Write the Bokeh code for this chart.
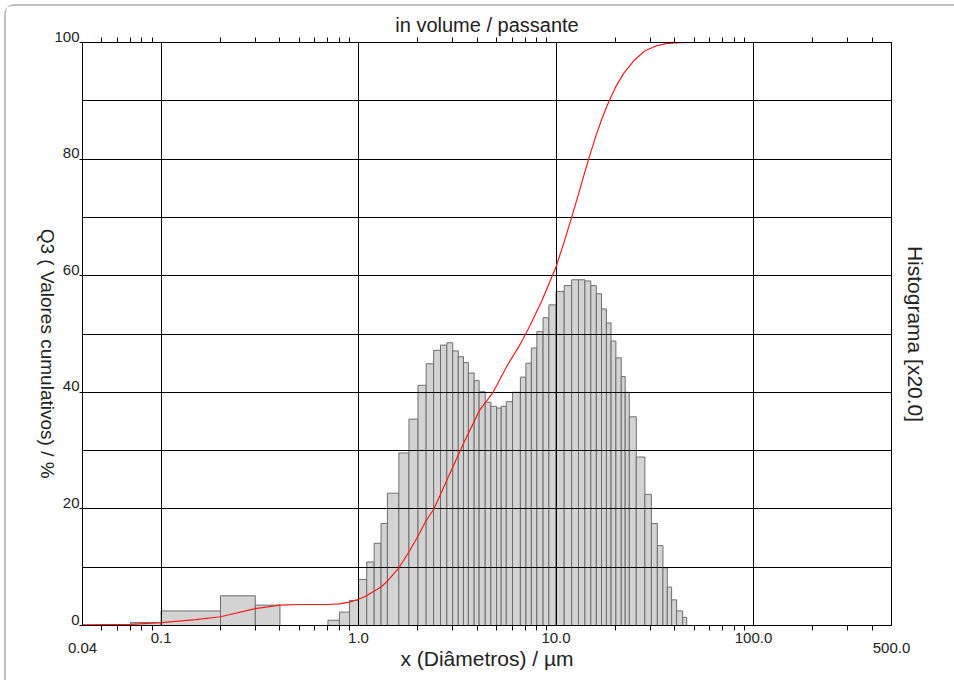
import math
from bokeh.plotting import figure
from bokeh.layouts import column
from bokeh.models import (Range1d, LogAxis, LinearAxis, FixedTicker,
                          ColumnDataSource)
from bokeh.embed import file_html
from bokeh.resources import INLINE

# ---------------- data ----------------
bin_lower = [0.07, 0.1, 0.2, 0.3,
             0.7, 0.8, 0.9, 1.0, 1.1, 1.2, 1.3, 1.4, 1.6, 1.8, 2.0, 2.2, 2.4,
             2.6, 2.8, 3.0, 3.2, 3.4, 3.6, 3.85, 4.08, 4.38, 4.68, 5.0, 5.28,
             5.6, 6.02, 6.6, 7.04, 7.5, 8.0, 8.6, 9.2, 10.0, 11.0, 12.0, 13.0,
             14.0, 15.0, 16.0, 17.0, 18.0, 19.0, 20.1, 21.4, 22.4, 23.5, 25.5,
             28.2, 30.4, 32.6, 34.8, 36.6, 38.5, 40.8, 43.8]
bin_upper = [0.1, 0.2, 0.3, 0.4,
             0.8, 0.9, 1.0, 1.1, 1.2, 1.3, 1.4, 1.6, 1.8, 2.0, 2.2, 2.4, 2.6,
             2.8, 3.0, 3.2, 3.4, 3.6, 3.85, 4.08, 4.38, 4.68, 5.0, 5.28, 5.6,
             6.02, 6.6, 7.04, 7.5, 8.0, 8.6, 9.2, 10.0, 11.0, 12.0, 13.0, 14.0,
             15.0, 16.0, 17.0, 18.0, 19.0, 20.1, 21.4, 22.4, 23.5, 25.5, 28.2,
             30.4, 32.6, 34.8, 36.6, 38.5, 40.8, 43.8, 45.9]
histogram = [0.5, 2.5, 5.1, 3.5,
             0.9, 2.3, 4.3, 7.9, 10.9, 14.1, 17.5, 22.7, 29.6, 35.4, 41.2, 44.9,
             47.2, 48.1, 48.5, 47.1, 46.1, 45.1, 43.3, 42.0, 40.1, 38.3, 37.6,
             37.3, 37.6, 38.4, 40.0, 42.6, 45.0, 47.6, 50.4, 52.8, 55.0, 57.3,
             58.3, 59.3, 59.3, 59.1, 58.3, 56.9, 54.3, 51.9, 48.8, 45.9, 42.7,
             40.0, 35.8, 28.9, 22.5, 17.5, 13.7, 9.9, 6.6, 4.4, 2.5, 1.4]

curve_x = [0.04, 0.07, 0.1, 0.15, 0.2, 0.3, 0.4, 0.5, 0.7, 0.8, 0.9, 1.0, 1.1,
           1.2, 1.3, 1.4, 1.6, 1.8, 2.0, 2.2, 2.4, 2.8, 3.4, 4.1, 4.8, 5.6,
           6.6, 7.4, 8.5, 10.0, 11.0, 12.0, 13.0, 14.0, 15.0, 16.0, 17.0,
           18.0, 19.0, 20.0, 22.0, 25.0, 28.0, 32.0, 36.0, 40.0, 46.0, 500.0]
curve_q3 = [0.1, 0.2, 0.5, 1.0, 1.5, 2.9, 3.5, 3.6, 3.6, 3.7, 4.0, 4.5, 5.1,
            5.9, 6.6, 7.6, 9.9, 12.6, 15.3, 18.0, 19.9, 24.9, 31.2, 36.9,
            40.0, 44.3, 48.3, 51.5, 55.8, 61.5, 65.8, 70.0, 74.0, 77.8, 81.2,
            84.2, 86.7, 88.9, 90.7, 92.3, 94.7, 97.0, 98.5, 99.4, 99.8, 99.95,
            100.0, 100.0]

x_major = [0.1, 1.0, 10.0, 100.0]
x_major_labels = ["0.1", "1.0", "10.0", "100.0"]
x_minor = [0.05, 0.06, 0.07, 0.08, 0.09,
           0.2, 0.3, 0.4, 0.5, 0.6, 0.7, 0.8, 0.9,
           2, 3, 4, 5, 6, 7, 8, 9,
           20, 30, 40, 50, 60, 70, 80, 90,
           200, 300, 400]
x_end_values = [0.04, 500.0]
x_end_labels = ["0.04", "500.0"]
y_ticks = [0, 20, 40, 60, 80, 100]
y_grid = [10, 20, 30, 40, 50, 60, 70, 80, 90]

x_title = "x (Diâmetros) / µm"
y_title = "Q3 ( Valores cumulativos) / %"
y_title_end = 25.2          # y value where the (top-to-bottom) title ends
y2_title = "Histograma [x20.0]"
top_title = "in volume / passante"

FONT = "Liberation Sans"
TXT = "#222222"
TICK_SIZE = "15px"

# ---------------- figure ----------------
XMIN, XMAX = 0.04, 500.0
p = figure(width=948, height=674, x_axis_type="log",
           x_range=Range1d(XMIN, XMAX), y_range=Range1d(0, 100),
           output_backend="svg", toolbar_location=None,
           min_border_left=76, min_border_right=63,
           min_border_top=36, min_border_bottom=55)
p.background_fill_color = "white"
p.border_fill_color = "white"
p.outline_line_color = "black"
p.outline_line_width = 1

# --- bottom axis: major labels
xa = p.below[0]
xa.ticker = FixedTicker(ticks=x_major, minor_ticks=x_minor)
xa.major_label_overrides = {v: s for v, s in zip(x_major, x_major_labels)}
xa.major_label_text_font = FONT
xa.major_label_text_font_size = TICK_SIZE
xa.major_label_text_color = TXT
xa.major_label_standoff = 2
xa.major_tick_out = 0
xa.major_tick_in = 0
xa.minor_tick_out = 5
xa.minor_tick_in = 0
xa.minor_tick_line_color = "black"
xa.axis_line_color = "black"

# --- second bottom axis: end labels + axis title
xb = LogAxis(ticker=FixedTicker(ticks=x_end_values, minor_ticks=[]),
             major_label_overrides={v: s for v, s in zip(x_end_values, x_end_labels)},
             major_label_text_font=FONT, major_label_text_font_size=TICK_SIZE,
             major_label_text_color=TXT, major_label_standoff=-3,
             major_tick_out=0, major_tick_in=0, axis_line_color=None,
             major_tick_line_color=None, minor_tick_line_color=None,
             axis_label=x_title, axis_label_text_font=FONT,
             axis_label_text_font_size="21px",
             axis_label_text_font_style="normal",
             axis_label_text_color=TXT, axis_label_standoff=-9)
p.add_layout(xb, "below")

# --- top axis: ticks only + title
ta = LogAxis(ticker=FixedTicker(ticks=x_major, minor_ticks=x_minor),
             major_label_text_font_size="1px", major_label_text_alpha=0,
             major_label_standoff=0,
             major_tick_out=0, major_tick_in=0, minor_tick_out=5,
             minor_tick_in=0, minor_tick_line_color="black",
             axis_line_color="black",
             axis_label=top_title, axis_label_text_font=FONT,
             axis_label_text_font_size="20px",
             axis_label_text_font_style="normal",
             axis_label_text_color=TXT, axis_label_standoff=2)
p.add_layout(ta, "above")

# --- left axis: ticks + labels sitting just above their grid lines
ya = p.left[0]
ya.ticker = FixedTicker(ticks=y_ticks, minor_ticks=[])
ya.major_label_overrides = {v: f"{v}\n" for v in y_ticks}
ya.major_label_text_font = FONT
ya.major_label_text_font_size = TICK_SIZE
ya.major_label_text_line_height = 0.75
ya.major_label_text_color = TXT
ya.major_label_standoff = 0
ya.major_tick_out = 3
ya.major_tick_in = 0
ya.major_tick_line_color = "black"
ya.minor_tick_line_color = None
ya.axis_line_color = "black"

# --- second left axis: the y title, read top to bottom
yt = LinearAxis(ticker=FixedTicker(ticks=[y_title_end], minor_ticks=[]),
                major_label_overrides={y_title_end: y_title},
                major_label_orientation=-math.pi / 2,
                major_label_text_font=FONT, major_label_text_font_size="19px",
                major_label_text_color=TXT, major_label_standoff=4,
                major_tick_out=0, major_tick_in=0,
                major_tick_line_color=None, minor_tick_line_color=None,
                axis_line_color=None)
p.add_layout(yt, "left")

# --- right axis: only the title (parallel on the right reads top to bottom)
ra = LinearAxis(ticker=FixedTicker(ticks=[], minor_ticks=[]),
                major_label_standoff=0, major_tick_out=0, major_tick_in=0,
                major_tick_line_color=None, minor_tick_line_color=None,
                axis_line_color="black",
                axis_label=y2_title, axis_label_text_font=FONT,
                axis_label_text_font_size="21px",
                axis_label_text_font_style="normal",
                axis_label_text_color=TXT, axis_label_standoff=12)
p.add_layout(ra, "right")

# --- grids
p.xgrid.ticker = FixedTicker(ticks=x_major)
p.ygrid.ticker = FixedTicker(ticks=y_grid)
for g in (p.xgrid, p.ygrid):
    g.grid_line_color = "black"
    g.grid_line_width = 1
    g.grid_line_alpha = 1.0
    g.level = "underlay"

# --- histogram bars (drawn below the grid)
src = ColumnDataSource(dict(left=bin_lower, right=bin_upper, top=histogram))
bars = p.quad(left="left", right="right", bottom=0, top="top", source=src,
              fill_color="#d3d3d3", line_color="#6e6e6e", line_width=1)
bars.level = "image"

# --- cumulative curve
p.line(curve_x, curve_q3, line_color="#ff1a1a", line_width=1.2)

page = column(p, styles={"margin-left": "4px", "margin-top": "4px",
                         "border-top": "2px solid #c0c0c0",
                         "border-left": "2px solid #c0c0c0",
                         "border-top-left-radius": "10px"})

open("out.html", "w").write(file_html(page, INLINE))
